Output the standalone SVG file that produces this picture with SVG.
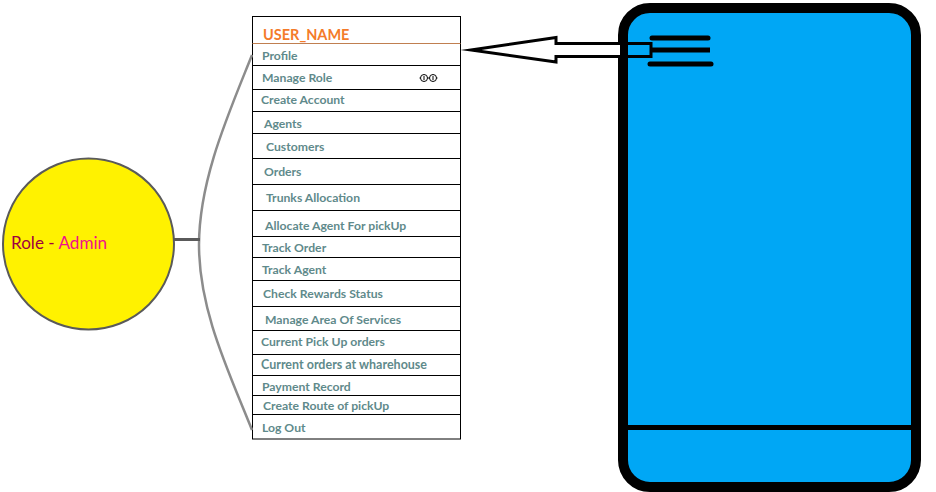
<svg xmlns="http://www.w3.org/2000/svg" width="936" height="492" viewBox="0 0 936 492">
<style>
.row{fill:#fff;stroke:#000;stroke-width:1}
.t{font-family:Lato,"Open Sans",sans-serif;font-weight:700;font-size:12.2px;fill:#5f8a8b}
.ln{fill:none;stroke:#8c8c8c;stroke-width:2.5}
</style>
<g id="phone">
<rect x="623" y="8" width="293" height="479" rx="27" fill="#00a7f5" stroke="#000" stroke-width="10"/>
<line x1="623" y1="427.500" x2="916" y2="427.500" stroke="#000" stroke-width="5"/>
<line x1="652" y1="38" x2="708" y2="38" stroke="#000" stroke-width="5" stroke-linecap="round"/>
<line x1="652" y1="50" x2="710" y2="50" stroke="#000" stroke-width="5"/>
<line x1="650" y1="64" x2="711" y2="64" stroke="#000" stroke-width="5" stroke-linecap="round"/>
</g>
<g id="menu">
<rect class="row" x="252.500" y="16.500" width="208" height="422.500"/>
<path d="M252.500 65.500H460.500M252.500 89.500H460.500M252.500 111.500H460.500M252.500 133.500H460.500M252.500 158.500H460.500M252.500 184.500H460.500M252.500 210.500H460.500M252.500 236.500H460.500M252.500 257.500H460.500M252.500 280.500H460.500M252.500 306.500H460.500M252.500 330.500H460.500M252.500 354.500H460.500M252.500 375.500H460.500M252.500 395.500H460.500M252.500 414.500H460.500" stroke="#000" fill="none"/>
<line x1="252.500" y1="43.500" x2="460.500" y2="43.500" stroke="#c07f50"/>
<text x="263" y="40" font-family="Lato,'Open Sans',sans-serif" font-weight="700" font-size="14.500" fill="#f47b2a">USER_NAME</text>
<text class="t" x="262" y="60">Profile</text>
<text class="t" x="262" y="82">Manage Role</text>
<text class="t" x="261" y="104">Create Account</text>
<text class="t" x="264" y="128">Agents</text>
<text class="t" x="266" y="151">Customers</text>
<text class="t" x="264" y="176">Orders</text>
<text class="t" x="266" y="202">Trunks Allocation</text>
<text class="t" x="265" y="230">Allocate Agent For pickUp</text>
<text class="t" x="262" y="252">Track Order</text>
<text class="t" x="262" y="274">Track Agent</text>
<text class="t" x="263" y="298">Check Rewards Status</text>
<text class="t" x="265" y="324">Manage Area Of Services</text>
<text class="t" x="261" y="346">Current Pick Up orders</text>
<text class="t" x="261" y="369" style="font-size:12.5px">Current orders at wharehouse</text>
<text class="t" x="262" y="391">Payment Record</text>
<text class="t" x="263" y="410">Create Route of pickUp</text>
<text class="t" x="262" y="432">Log Out</text>
<g fill="none" stroke="#000" stroke-width="1"><circle cx="424" cy="78" r="3.500"/><circle cx="433" cy="78" r="3.500"/></g>
<path d="M424 76V80M433 76V80M419.500 78H420.500M427.500 78H429.500M436.500 78H437.500" stroke="#000"/>
</g>
<g id="role">
<circle cx="88.500" cy="244" r="85.500" fill="#fff200" stroke="#5a5a5a" stroke-width="2"/>
<text x="11" y="249" font-family="Lato,'Open Sans',sans-serif" font-size="17.100"><tspan fill="#a00040">Role - </tspan><tspan fill="#f0108c">Admin</tspan></text>
</g>
<g id="connectors">
<path class="ln" d="M252 55C228 115 199 180 199 245C199 310 228 370 252 430"/>
<line x1="174" y1="239.500" x2="200" y2="239.500" stroke="#5a5a5a" stroke-width="3"/>
<path d="M620 43.500H556V37.500L471 50L556 62V56.500H620Z" fill="#fff"/>
<path d="M620 43.500H556V37.500L471 50L556 62V56.500H620" fill="none" stroke="#000" stroke-width="3" stroke-miterlimit="20"/>
<path d="M623 43.500H651V56.500H623" fill="none" stroke="#000" stroke-width="3"/>
</g>
</svg>
